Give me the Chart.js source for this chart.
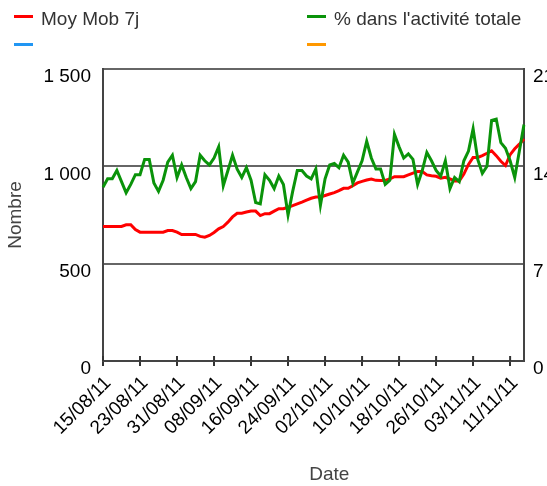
<!DOCTYPE html>
<html>
<head>
<meta charset="utf-8">
<script src="https://cdn.jsdelivr.net/npm/chart.js@4/dist/chart.umd.min.js"></script>
<style>
  html, body { margin: 0; padding: 0; overflow: hidden; background: #fff; }
  #wrap { position: relative; width: 547px; height: 486px; overflow: hidden; }
  #chart { position: absolute; left: 0; top: 0; }
  .lg { position: absolute; font: 19px "Liberation Sans", Arial, sans-serif; color: #333; white-space: nowrap; }
  .lg i { position: absolute; left: 0; top: 7px; width: 19px; height: 3px; }
  .lg span { position: absolute; left: 27px; top: 0; line-height: 22px; }
</style>
</head>
<body>
<div id="wrap">
  <canvas id="chart" width="580" height="486"></canvas>
  <div id="legend"></div>
</div>
<script>
// one label per day, 15/08/11 -> 14/11/11
const dates = [
  '15/08/11','16/08/11','17/08/11','18/08/11','19/08/11','20/08/11','21/08/11','22/08/11',
  '23/08/11','24/08/11','25/08/11','26/08/11','27/08/11','28/08/11','29/08/11','30/08/11',
  '31/08/11','01/09/11','02/09/11','03/09/11','04/09/11','05/09/11','06/09/11','07/09/11',
  '08/09/11','09/09/11','10/09/11','11/09/11','12/09/11','13/09/11','14/09/11','15/09/11',
  '16/09/11','17/09/11','18/09/11','19/09/11','20/09/11','21/09/11','22/09/11','23/09/11',
  '24/09/11','25/09/11','26/09/11','27/09/11','28/09/11','29/09/11','30/09/11','01/10/11',
  '02/10/11','03/10/11','04/10/11','05/10/11','06/10/11','07/10/11','08/10/11','09/10/11',
  '10/10/11','11/10/11','12/10/11','13/10/11','14/10/11','15/10/11','16/10/11','17/10/11',
  '18/10/11','19/10/11','20/10/11','21/10/11','22/10/11','23/10/11','24/10/11','25/10/11',
  '26/10/11','27/10/11','28/10/11','29/10/11','30/10/11','31/10/11','01/11/11','02/11/11',
  '03/11/11','04/11/11','05/11/11','06/11/11','07/11/11','08/11/11','09/11/11','10/11/11',
  '11/11/11','12/11/11','13/11/11','14/11/11'
];

// labels shown under the x axis
const tickLabels = ['15/08/11','23/08/11','31/08/11','08/09/11','16/09/11','24/09/11',
  '02/10/11','10/10/11','18/10/11','26/10/11','03/11/11','11/11/11'];

// Moy Mob 7j (left axis, Nombre)
const moyMob = [
  691, 691, 691, 691, 691, 700, 700, 675, 662, 662, 662, 662, 662, 662, 670, 670,
  662, 650, 650, 650, 650, 640, 636, 645, 660, 679, 691, 713, 740, 759, 759, 765,
  770, 770, 747, 757, 757, 770, 782, 782, 790, 798, 807, 816, 826, 836, 842, 842,
  850, 858, 865, 875, 887, 887, 900, 915, 923, 930, 935, 928, 927, 927, 935, 947,
  947, 947, 956, 965, 973, 973, 956, 952, 949, 939, 944, 935, 925, 925, 960, 1010,
  1046, 1046, 1055, 1067, 1080, 1055, 1026, 1004, 1060, 1090, 1114, 1140
];

// % dans l'activité totale (right axis)
const pctActivite = [
  12.5, 13.1, 13.1, 13.7, 12.9, 12.1, 12.7, 13.4, 13.4, 14.5, 14.5, 12.8, 12.2, 13.0, 14.3, 14.8,
  13.2, 14.1, 13.2, 12.4, 12.9, 14.8, 14.4, 14.1, 14.6, 15.4, 12.6, 13.7, 14.8, 13.8, 13.2, 13.9,
  13.0, 11.4, 11.3, 13.4, 13.0, 12.4, 13.3, 12.7, 10.5, 12.2, 13.7, 13.7, 13.3, 13.1, 13.8, 11.2,
  13.1, 14.1, 14.2, 13.9, 14.8, 14.3, 12.8, 13.6, 14.4, 15.8, 14.6, 13.8, 13.8, 12.7, 13.0, 16.3,
  15.4, 14.6, 14.9, 14.5, 12.7, 13.7, 15.0, 14.4, 13.7, 13.3, 14.4, 12.4, 13.2, 12.9, 14.4, 15.1,
  16.7, 14.5, 13.5, 14.0, 17.3, 17.4, 15.7, 15.3, 14.4, 13.2, 15.1, 17.0
];

const blueSeries = [];
const orangeSeries = [];

const FONT = '"Liberation Sans", Arial, sans-serif';

function fmtNum(v) {
    return String(v).replace(/\B(?=(\d{3})+(?!\d))/g, ' ');
}

// short tick marks that cross the x axis line (inside and outside)
const crossTicks = {
    id: 'crossTicks',
    afterDatasetsDraw(chart) {
        const { ctx, scales: { x } } = chart;
        ctx.save();
        ctx.strokeStyle = '#333';
        ctx.lineWidth = 2;
        x.ticks.forEach((t, i) => {
            if (!tickLabels.includes(dates[i])) return;
            const px = x.getPixelForTick(i);
            ctx.beginPath();
            ctx.moveTo(px, x.top - 5);
            ctx.lineTo(px, x.top);
            ctx.stroke();
        });
        ctx.restore();
    }
};

const chart = new Chart(document.getElementById('chart'), {
    type: 'line',
    data: {
        labels: dates,
        datasets: [{
            label: 'Moy Mob 7j',
            data: moyMob,
            borderColor: '#ff0000',
            borderWidth: 3,
            yAxisID: 'y',
            order: 2
        }, {
            label: "% dans l'activité totale",
            data: pctActivite,
            borderColor: '#0a930a',
            borderWidth: 3,
            yAxisID: 'y1',
            order: 1
        }, {
            label: '',
            data: blueSeries,
            borderColor: '#2196f3',
            borderWidth: 3,
            yAxisID: 'y'
        }, {
            label: '',
            data: orangeSeries,
            borderColor: '#ff9800',
            borderWidth: 3,
            yAxisID: 'y'
        }]
    },
    plugins: [crossTicks],
    options: {
        responsive: false,
        animation: false,
        layout: { padding: { top: 69, left: 0, right: 0, bottom: 0 } },
        elements: { point: { radius: 0 }, line: { tension: 0, fill: false } },
        plugins: { legend: { display: false }, tooltip: { enabled: false } },
        scales: {
            x: {
                offset: false,
                afterFit: s => { s.height = 125; },
                grid: {
                    drawOnChartArea: false,
                    tickLength: 5,
                    lineWidth: 2,
                    color: ctx => tickLabels.includes(dates[ctx.index]) ? '#333' : 'rgba(0,0,0,0)'
                },
                border: { color: '#444', width: 2 },
                ticks: {
                    autoSkip: false,
                    maxRotation: 45,
                    minRotation: 45,
                    padding: 6,
                    labelOffset: 5,
                    color: '#000',
                    font: { family: FONT, size: 19 },
                    callback: function(v, i) {
                        const d = dates[i];
                        return tickLabels.includes(d) ? d : '';
                    }
                },
                title: {
                    display: true,
                    text: '      Date',
                    color: '#444',
                    font: { family: FONT, size: 19 },
                    padding: { top: 0, bottom: 0 }
                }
            },
            y: {
                position: 'left',
                min: 0,
                max: 1500,
                afterFit: s => { s.width = 103; },
                grid: { color: '#666', lineWidth: 2, drawTicks: false },
                border: { color: '#444', width: 2 },
                ticks: {
                    stepSize: 500,
                    padding: 12,
                    labelOffset: 8,
                    color: '#000',
                    font: { family: FONT, size: 19 },
                    callback: v => fmtNum(v)
                },
                title: {
                    display: true,
                    text: 'Nombre',
                    color: '#444',
                    font: { family: FONT, size: 19 },
                    padding: { top: 4, bottom: 4 }
                }
            },
            y1: {
                position: 'right',
                min: 0,
                max: 21,
                afterFit: s => { s.width = 56; },
                grid: { display: false, drawTicks: false },
                border: { color: '#444', width: 2 },
                ticks: {
                    stepSize: 7,
                    padding: 9,
                    labelOffset: 8,
                    color: '#000',
                    font: { family: FONT, size: 19 }
                }
            }
        }
    }
});

// two-column legend like the original
const $legend = document.getElementById('legend');
chart.data.datasets.forEach((ds, i) => {
    const $item = document.createElement('div');
    $item.className = 'lg';
    $item.style.left = (i % 2 ? 307 : 14) + 'px';
    $item.style.top = (i < 2 ? 8 : 36) + 'px';
    $item.innerHTML = `<i style="background:${ds.borderColor}"></i><span></span>`;
    $item.querySelector('span').textContent = ds.label;
    $legend.appendChild($item);
});
</script>
</body>
</html>
